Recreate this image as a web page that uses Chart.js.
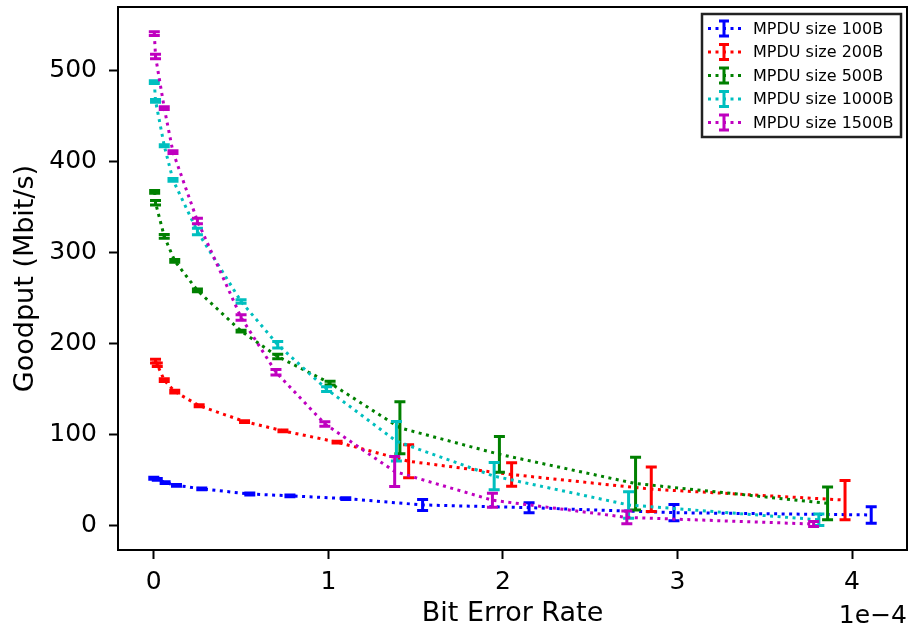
<!DOCTYPE html>
<html>
<head>
<meta charset="utf-8">
<script src="https://cdn.jsdelivr.net/npm/chart.js@4"></script>
<style>body{margin:0;background:#fff}</style>
</head>
<body>
<canvas id="myChart" width="911" height="633"></canvas>
<script>
// series names and colours (matplotlib b, r, g, c, m)
const seriesNames = ['MPDU size 100B', 'MPDU size 200B', 'MPDU size 500B', 'MPDU size 1000B', 'MPDU size 1500B'];
const seriesColors = ['#0000ff', '#ff0000', '#008000', '#00bfbf', '#bf00bf'];

// bit error rate, in units of 1e-4
const ber100 = [0.0, 0.02, 0.065, 0.13, 0.275, 0.55, 0.78, 1.10, 1.54, 2.15, 2.98, 4.11];
const ber200 = [0.01, 0.02, 0.06, 0.12, 0.26, 0.52, 0.74, 1.05, 1.46, 2.05, 2.85, 3.96];
const ber500 = [0.005, 0.01, 0.06, 0.12, 0.25, 0.50, 0.71, 1.01, 1.41, 1.98, 2.76, 3.86];
const ber1000 = [0.003, 0.01, 0.06, 0.11, 0.25, 0.50, 0.71, 0.99, 1.39, 1.95, 2.72, 3.81];
const ber1500 = [0.003, 0.01, 0.06, 0.11, 0.25, 0.50, 0.70, 0.98, 1.38, 1.94, 2.71, 3.78];

// goodput (Mbit/s)
const goodput100 = [52.3, 51, 47.5, 44.5, 40.7, 35, 33, 30, 23, 20, 14.5, 12];
const goodput200 = [181, 177, 160, 147.6, 132, 114.6, 104.4, 92, 71, 56.4, 40.3, 28.3];
const goodput500 = [367, 355, 318, 291, 258.6, 214, 186, 156.8, 107.7, 78.6, 46.5, 24.7];
const goodput1000 = [487.6, 467, 417.6, 380, 323.4, 246.5, 199, 150.2, 93, 54.6, 23, 6.7];
const goodput1500 = [540.7, 515.7, 459, 410.6, 335, 229, 168.8, 112, 59.7, 28.2, 9.3, 2];

// error bar half-lengths
const err100 = [1, 1, 1, 1, 1, 1, 1, 1, 6, 5.5, 9, 9];
const err200 = [2, 2, 1.5, 1.5, 1, 1, 1, 1, 18, 13, 24.5, 21.5];
const err500 = [1.5, 2.5, 2, 1.5, 1.5, 1, 2.5, 2, 28.6, 19.6, 29, 18];
const err1000 = [1.5, 1.5, 1, 1.5, 3.5, 2, 3.6, 2.5, 21.6, 15, 14.6, 6.4];
const err1500 = [2, 2.5, 1.5, 1.5, 3, 3, 3, 2.5, 16.5, 7.7, 7, 2.7];

const xTicks = [0, 1, 2, 3, 4];
const yTicks = [0, 100, 200, 300, 400, 500];

const bers = [ber100, ber200, ber500, ber1000, ber1500];
const goodputs = [goodput100, goodput200, goodput500, goodput1000, goodput1500];
const errs = [err100, err200, err500, err1000, err1500];

const FONT = 'DejaVu Sans';

// error bars drawn right after each series line, through the chart scales
const errorBars = {
    id: 'errorBars',
    afterDatasetDraw(chart, args) {
        const { ctx, scales: { x, y } } = chart;
        const ds = chart.data.datasets[args.index];
        ctx.save();
        ctx.strokeStyle = ds.borderColor;
        ctx.lineWidth = 3;
        ctx.setLineDash([]);
        ds.data.forEach((p, j) => {
            const px = x.getPixelForValue(p.x);
            const top = y.getPixelForValue(p.y + ds.err[j]);
            const bot = y.getPixelForValue(p.y - ds.err[j]);
            ctx.beginPath();
            ctx.moveTo(px, top); ctx.lineTo(px, bot);
            ctx.moveTo(px - 5.5, top); ctx.lineTo(px + 5.5, top);
            ctx.moveTo(px - 5.5, bot); ctx.lineTo(px + 5.5, bot);
            ctx.stroke();
        });
        ctx.restore();
    }
};

// top/right spines, offset text and legend box
const decorations = {
    id: 'decorations',
    afterDraw(chart) {
        const { ctx, chartArea: a } = chart;
        ctx.save();
        ctx.strokeStyle = '#000';
        ctx.lineWidth = 2;
        ctx.beginPath();
        ctx.moveTo(a.left, a.top); ctx.lineTo(a.right, a.top); ctx.lineTo(a.right, a.bottom);
        ctx.stroke();

        ctx.fillStyle = '#000';
        ctx.font = '25px "' + FONT + '"';
        ctx.textAlign = 'right';
        ctx.textBaseline = 'alphabetic';
        ctx.fillText('1e\u22124', a.right, 623);

        // legend
        const lx = 702, ly = 14, lw = 199, lh = 123;
        ctx.fillStyle = '#fff';
        ctx.fillRect(lx, ly, lw, lh);
        ctx.strokeStyle = '#222';
        ctx.lineWidth = 2.5;
        ctx.strokeRect(lx, ly, lw, lh);
        ctx.font = '16px "' + FONT + '"';
        ctx.textAlign = 'left';
        ctx.textBaseline = 'middle';
        seriesNames.forEach((name, i) => {
            const cy = 28.5 + i * 23.5;
            ctx.strokeStyle = seriesColors[i];
            ctx.lineWidth = 3;
            ctx.setLineDash([3, 4.5]);
            ctx.beginPath();
            ctx.moveTo(708, cy); ctx.lineTo(742, cy);
            ctx.stroke();
            ctx.setLineDash([]);
            ctx.beginPath();
            ctx.moveTo(724, cy - 7.5); ctx.lineTo(724, cy + 7.5);
            ctx.moveTo(719, cy - 7.5); ctx.lineTo(729, cy - 7.5);
            ctx.moveTo(719, cy + 7.5); ctx.lineTo(729, cy + 7.5);
            ctx.stroke();
            ctx.fillStyle = '#000';
            ctx.fillText(name, 753, cy + 1);
        });
        ctx.restore();
    }
};

const datasets = seriesNames.map((name, i) => ({
    label: name,
    data: bers[i].map((b, j) => ({ x: b, y: goodputs[i][j] })),
    err: errs[i],
    borderColor: seriesColors[i],
    backgroundColor: seriesColors[i],
    borderWidth: 3,
    borderDash: [3, 4.5],
    showLine: true,
    pointRadius: 0,
    order: seriesNames.length - i
}));

const tickFont = { family: FONT, size: 25 };
const titleFont = { family: FONT, size: 27 };

// pin the plot area where the reference has it
const noPadding = s => { s.paddingTop = 0; s.paddingBottom = 0; s.paddingLeft = 0; s.paddingRight = 0; };

new Chart(document.getElementById('myChart'), {
    type: 'scatter',
    data: { datasets },
    plugins: [errorBars, decorations],
    options: {
        responsive: false,
        animation: false,
        layout: { padding: { top: 7, right: 4, left: 0, bottom: 0 } },
        plugins: { legend: { display: false }, tooltip: { enabled: false } },
        scales: {
            x: {
                type: 'linear',
                min: -0.205,
                max: 4.315,
                afterFit: s => { s.height = 83; noPadding(s); },
                afterBuildTicks: s => { s.ticks = xTicks.map(v => ({ value: v })); },
                ticks: { font: tickFont, color: '#000', padding: 8, callback: v => String(v) },
                grid: { drawOnChartArea: false, drawTicks: true, tickLength: 9, tickWidth: 2, tickColor: '#000' },
                border: { color: '#000', width: 2 },
                title: { display: true, text: 'Bit Error Rate', font: titleFont, color: '#000', padding: { top: 0, bottom: 3 } }
            },
            y: {
                type: 'linear',
                min: -26.5,
                max: 570,
                afterFit: s => { s.width = 118; noPadding(s); },
                afterBuildTicks: s => { s.ticks = yTicks.map(v => ({ value: v })); },
                ticks: { font: tickFont, color: '#000', padding: 12, callback: v => String(v) },
                grid: { drawOnChartArea: false, drawTicks: true, tickLength: 9, tickWidth: 2, tickColor: '#000' },
                border: { color: '#000', width: 2 },
                title: { display: true, text: 'Goodput (Mbit/s)', font: titleFont, color: '#000', padding: { top: 10, bottom: 0 } }
            }
        }
    }
});
</script>
</body>
</html>
